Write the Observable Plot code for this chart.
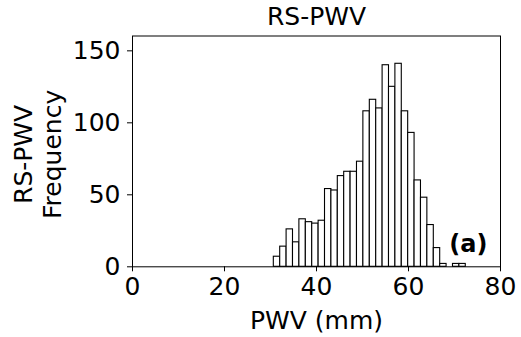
<!DOCTYPE html>
<html>
<head>
<meta charset="utf-8">
<script src="https://cdn.jsdelivr.net/npm/d3@7"></script>
<script src="https://cdn.jsdelivr.net/npm/@observablehq/plot@0.6"></script>
<style>
  html, body { margin: 0; padding: 0; background: #fff; }
  svg { font-family: "DejaVu Sans", sans-serif; }
</style>
</head>
<body>
<div id="chart"></div>
<script>
// Histogram bin edges (mm) and counts
const binEdges = [30.72, 32.11, 33.50, 34.89, 36.28, 37.68, 39.07, 40.46, 41.85, 43.24,
                  44.63, 46.02, 47.41, 48.80, 50.19, 51.59, 52.98, 54.37, 55.76, 57.15,
                  58.54, 59.93, 61.32, 62.71, 64.10, 65.50, 66.89, 68.28, 69.67, 71.06, 72.45];
const counts = [7, 14, 26, 17, 33, 31, 30, 32, 54, 53,
                63, 66, 66, 73, 108, 116, 110, 140, 125, 141,
                108, 93, 60, 48, 29, 13, 2, 0, 2, 2];
const xTicks = [0, 20, 40, 60, 80];
const yTicks = [0, 50, 100, 150];
const titleText = "RS-PWV";
const xLabel = "PWV (mm)";
const yLabelLines = ["RS-PWV", "Frequency"];
const panelTag = "(a)";

const bins = counts.map((c, i) => ({x1: binEdges[i], x2: binEdges[i + 1], count: c}));

const chart = Plot.plot({
  width: 521,
  height: 337,
  marginLeft: 132,
  marginRight: 21,
  marginTop: 35.5,
  marginBottom: 70.7,
  style: {fontFamily: "DejaVu Sans, sans-serif", fontSize: "25px", color: "black", background: "white"},
  x: {domain: [0, 80], ticks: xTicks, label: null},
  y: {domain: [0, 160.3], ticks: yTicks, label: null},
  marks: [
    Plot.rectY(bins, {x1: "x1", x2: "x2", y: "count", fill: "white", stroke: "black", strokeWidth: 1.1, inset: 0}),
    Plot.frame({stroke: "black", strokeWidth: 1}),
    Plot.axisX({ticks: xTicks, tickSize: 5, tickPadding: 5, fontSize: 25, label: null, stroke: "black"}),
    Plot.axisY({ticks: yTicks, tickSize: 5, tickPadding: 7, fontSize: 25, label: null, stroke: "black"}),
    Plot.text([titleText], {frameAnchor: "top", dy: -19, text: d => d, fontSize: 25, lineAnchor: "middle", fill: "black"}),
    Plot.text([xLabel], {frameAnchor: "bottom", dy: 54, text: d => d, fontSize: 25, lineAnchor: "middle", fill: "black"}),
    Plot.text([yLabelLines[0]], {frameAnchor: "left", dx: -109, dy: 3, rotate: -90, text: d => d, fontSize: 25, textAnchor: "middle", lineAnchor: "middle", fill: "black"}),
    Plot.text([yLabelLines[1]], {frameAnchor: "left", dx: -80, dy: 3, rotate: -90, text: d => d, fontSize: 25, textAnchor: "middle", lineAnchor: "middle", fill: "black"}),
    Plot.text([panelTag], {frameAnchor: "bottom-right", dx: -13, dy: -22, text: d => d, fontSize: 24, fontWeight: "bold", textAnchor: "end", lineAnchor: "middle", fill: "black"})
  ]
});
document.getElementById("chart").appendChild(chart);
</script>
</body>
</html>
